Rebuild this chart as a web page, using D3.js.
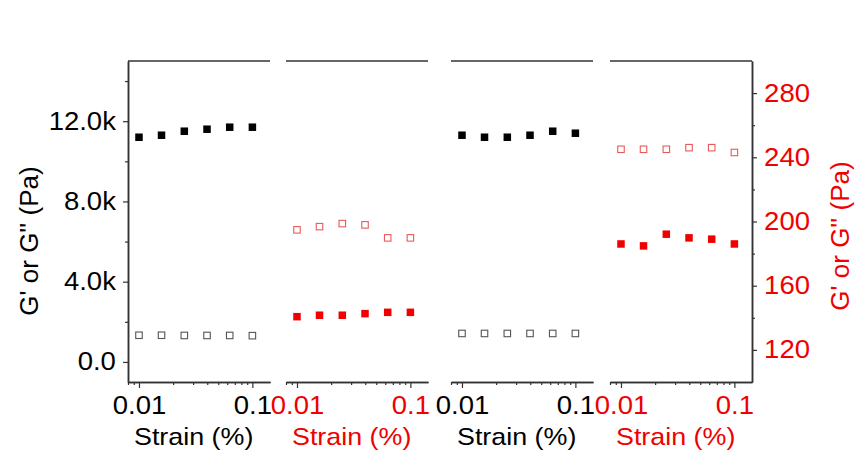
<!DOCTYPE html>
<html>
<head>
<meta charset="utf-8">
<script src="https://cdn.jsdelivr.net/npm/d3@7"></script>
<style>
  body { margin: 0; background: #fff; }
  text { font-family: Arial, "Liberation Sans", sans-serif; }
</style>
</head>
<body>
<div id="canvas"></div>
<script>
// canvas size and plot frame
const width = 857, height = 456;
const plotTop = 61, plotBottom = 382;
const panelWidth = 142;
const panelLefts = [128, 286, 451, 610];

// strain values, same for every panel
const strain = [0.01, 0.0158, 0.0251, 0.0398, 0.0631, 0.1];

// panel 1 (black, left axis)
const gPrime1 = [11200, 11300, 11500, 11600, 11700, 11700];
const gDouble1 = [1330, 1330, 1320, 1320, 1320, 1310];
// panel 2 (red, right axis)
const gPrime2 = [140.7, 141.6, 141.6, 142.6, 143.4, 143.4];
const gDouble2 = [194.8, 196.8, 198.7, 197.9, 189.8, 189.8];
// panel 3 (black, left axis)
const gPrime3 = [11300, 11200, 11200, 11300, 11500, 11400];
const gDouble3 = [1420, 1420, 1420, 1420, 1420, 1420];
// panel 4 (red, right axis)
const gPrime4 = [186, 184.8, 192.1, 189.8, 189, 186];
const gDouble4 = [245, 245, 245, 246, 246, 243];

// axis ticks
const leftTicks = [0, 4000, 8000, 12000];
const leftMinor = [2000, 6000, 10000, 14000];
const rightTicks = [120, 160, 200, 240, 280];
const rightMinor = [140, 180, 220, 260];
const xTicks = [0.01, 0.1];
const xMinor = [0.008, 0.009, 0.02, 0.03, 0.04, 0.05, 0.06, 0.07, 0.08, 0.09];

const red = "#f00000";
const frame = "#333";

const yLeft = d3.scaleLinear().domain([-1000, 15000]).range([plotBottom, plotTop]);
const yRight = d3.scaleLinear().domain([100, 300]).range([plotBottom, plotTop]);

const panels = [
    { gp: gPrime1, gpp: gDouble1, y: yLeft, color: "#000", open: "#555" },
    { gp: gPrime2, gpp: gDouble2, y: yRight, color: red, open: "#e85a5a" },
    { gp: gPrime3, gpp: gDouble3, y: yLeft, color: "#000", open: "#555" },
    { gp: gPrime4, gpp: gDouble4, y: yRight, color: red, open: "#e85a5a" }
];

const svg = d3.select("#canvas")
    .append("svg")
    .attr("width", width)
    .attr("height", height);

// the source picture is a little wider than tall, so stretch the labels
const styleAxis = (g, color) => {
    g.select(".domain").attr("stroke", frame).attr("stroke-width", 1.5);
    g.selectAll(".tick line").attr("stroke", frame).attr("stroke-width", 1.2);
    g.selectAll(".tick text").attr("fill", color).style("font-size", "25px")
        .attr("transform", "scale(1.1,1)");
};

panels.forEach((p, i) => {
    const left = panelLefts[i];
    const x = d3.scaleLog().domain([0.008, 0.143]).range([left, left + panelWidth]);

    // top frame line
    svg.append("line")
        .attr("x1", left).attr("x2", left + panelWidth)
        .attr("y1", plotTop).attr("y2", plotTop)
        .attr("stroke", frame).attr("stroke-width", 1.5);

    // bottom axis: minor then major ticks
    svg.append("g")
        .attr("transform", `translate(0,${plotBottom})`)
        .call(d3.axisBottom(x).tickValues(xMinor).tickSize(3).tickSizeOuter(0).tickFormat(""))
        .call(g => styleAxis(g, p.color));
    svg.append("g")
        .attr("transform", `translate(0,${plotBottom})`)
        .call(d3.axisBottom(x).tickValues(xTicks).tickSize(6).tickSizeOuter(0)
            .tickFormat(d => d === 0.1 ? "0.1" : "0.01").tickPadding(8))
        .call(g => styleAxis(g, p.color));

    const cx = (x(0.01) + x(0.1)) / 2 - 2;
    svg.append("text")
        .attr("x", 0)
        .attr("y", 445)
        .attr("text-anchor", "middle")
        .attr("fill", p.color)
        .style("font-size", "24px")
        .attr("transform", `translate(${cx},0) scale(1.12,1)`)
        .text("Strain (%)");

    const s = 7.5;
    // G' filled squares
    svg.append("g").selectAll("rect")
        .data(strain)
        .join("rect")
        .attr("x", d => x(d) - s / 2)
        .attr("y", (d, j) => p.y(p.gp[j]) - s / 2)
        .attr("width", s).attr("height", s)
        .attr("fill", p.color);
    // G'' open squares
    const o = 6.5;
    svg.append("g").selectAll("rect")
        .data(strain)
        .join("rect")
        .attr("x", d => x(d) - o / 2)
        .attr("y", (d, j) => p.y(p.gpp[j]) - o / 2)
        .attr("width", o).attr("height", o)
        .attr("fill", "none")
        .attr("stroke", p.open)
        .attr("stroke-width", 1.1);
});

// left axis
svg.append("g")
    .attr("transform", `translate(${panelLefts[0]},0)`)
    .call(d3.axisLeft(yLeft).tickValues(leftMinor).tickSize(3).tickSizeOuter(0).tickFormat(""))
    .call(g => styleAxis(g, "#000"));
svg.append("g")
    .attr("transform", `translate(${panelLefts[0]},0)`)
    .call(d3.axisLeft(yLeft).tickValues(leftTicks).tickSize(5).tickSizeOuter(0).tickPadding(6)
        .tickFormat(d => d === 0 ? "0.0" : (d / 1000).toFixed(1) + "k"))
    .call(g => styleAxis(g, "#000"));

// right axis
const rightX = panelLefts[3] + panelWidth;
svg.append("g")
    .attr("transform", `translate(${rightX},0)`)
    .call(d3.axisRight(yRight).tickValues(rightMinor).tickSize(3).tickSizeOuter(0).tickFormat(""))
    .call(g => styleAxis(g, red));
svg.append("g")
    .attr("transform", `translate(${rightX},0)`)
    .call(d3.axisRight(yRight).tickValues(rightTicks).tickSize(5).tickSizeOuter(0).tickPadding(6))
    .call(g => styleAxis(g, red));

// axis titles
svg.append("text")
    .attr("transform", "translate(38,241) rotate(-90)")
    .attr("text-anchor", "middle")
    .style("font-size", "26px")
    .attr("fill", "#000")
    .text("G' or G'' (Pa)");
svg.append("text")
    .attr("transform", "translate(849,236) rotate(-90)")
    .attr("text-anchor", "middle")
    .style("font-size", "26px")
    .attr("fill", red)
    .text("G' or G'' (Pa)");
</script>
</body>
</html>
